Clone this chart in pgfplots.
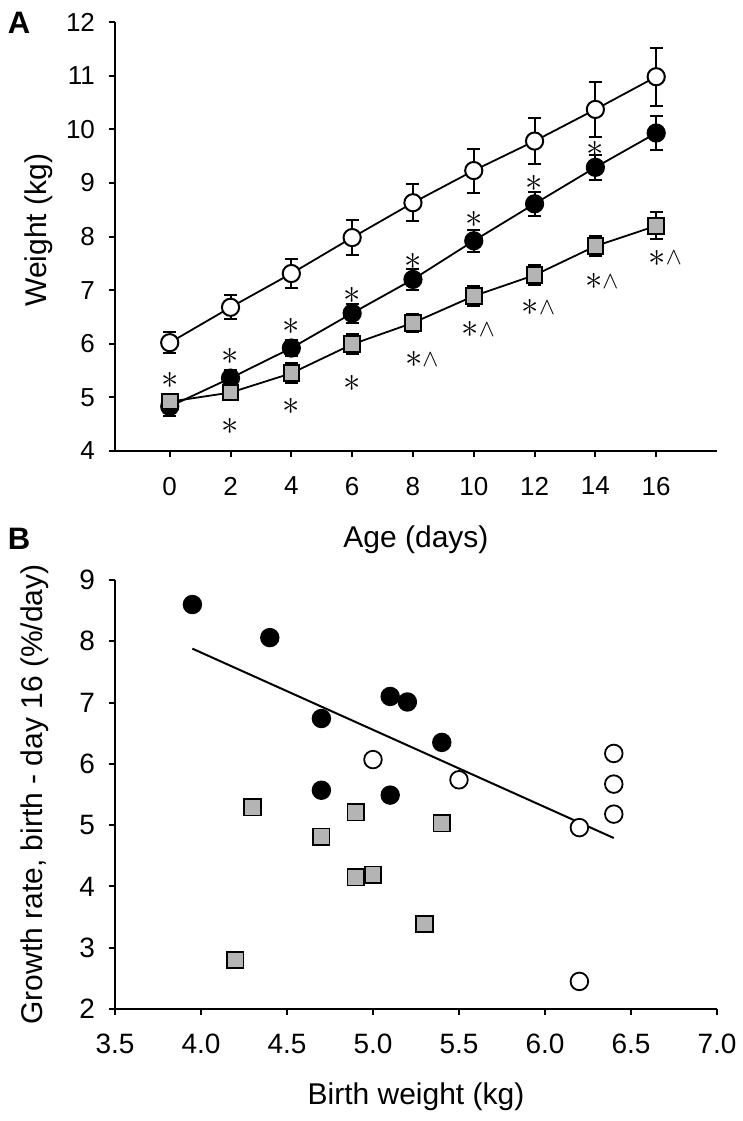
\documentclass[border=0pt]{standalone}
\usepackage{fontspec}
\setmainfont{Liberation Sans}
\setsansfont{Liberation Sans}
\usepackage{pgfplots}
\pgfplotsset{compat=1.18}

\definecolor{sqgray}{RGB}{180,180,180}

\pgfplotsset{
  panel/.style={
    scale only axis, width=301pt, height=214.5pt,
    axis lines=left, axis line style={-, line width=1pt},
    tick align=outside, major tick length=3pt,
    tick style={line width=1pt, black},
    /pgf/number format/assume math mode=true,
    clip=false,
    label style={font=\fontsize{15}{18}\selectfont},
  },
  openc/.style={black, line width=0.9pt, mark=*, mark size=4.3pt,
    mark options={fill=white, draw=black, line width=1pt}},
  fillc/.style={black, line width=0.9pt, mark=*, mark size=4.3pt,
    mark options={fill=black, draw=black, line width=1pt}},
  sq/.style={black, line width=0.9pt, mark=square*, mark size=3.9pt,
    mark options={fill=sqgray, draw=black, line width=1pt}},
  ebar/.style={error bars/.cd, y dir=both, y explicit,
    error bar style={line width=1pt, black},
    error mark options={rotate=90, black, line width=1pt, mark size=3.25pt}},
}
\newcommand{\st}{{\fontsize{19}{21}\selectfont$\ast$}}
\newcommand{\stw}{{\fontsize{19}{21}\selectfont$\ast$}{\fontsize{13}{15}\selectfont\raisebox{0.6pt}{$\wedge$}}}

\begin{document}
\begin{tikzpicture}
\useasboundingbox (-57.5pt,-335pt) rectangle (314pt,225.5pt);

% panel A: weight by age
\begin{axis}[panel,
  xmin=-1.8, xmax=18, ymin=4, ymax=12,
  xtick={0,2,...,16}, ytick={4,5,...,12},
  tick label style={font=\fontsize{13}{15}\selectfont},
  xticklabel style={yshift=-6.5pt},
  yticklabel style={xshift=-3.5pt},
  xlabel={Age (days)},
  xlabel style={at={(axis description cs:0.5,-0.2075)}, anchor=center},
  ylabel={Weight (kg)},
  ylabel style={at={(axis description cs:-0.126,0.515)}, anchor=center},
]
\addplot[openc, ebar] coordinates {
  (0,6.02) +- (0,0.20) (2,6.68) +- (0,0.22) (4,7.31) +- (0,0.27)
  (6,7.98) +- (0,0.32) (8,8.63) +- (0,0.35) (10,9.23) +- (0,0.41)
  (12,9.78) +- (0,0.43) (14,10.37) +- (0,0.52) (16,10.98) +- (0,0.54)
};
\addplot[fillc, ebar] coordinates {
  (0,4.83) +- (0,0.17) (2,5.36) +- (0,0.15) (4,5.92) +- (0,0.15)
  (6,6.57) +- (0,0.18) (8,7.20) +- (0,0.19) (10,7.92) +- (0,0.20)
  (12,8.61) +- (0,0.22) (14,9.29) +- (0,0.23) (16,9.93) +- (0,0.31)
};
\addplot[sq, ebar] coordinates {
  (0,4.92) +- (0,0.10) (2,5.09) +- (0,0.10) (4,5.45) +- (0,0.19)
  (6,5.99) +- (0,0.19) (8,6.39) +- (0,0.17) (10,6.89) +- (0,0.18)
  (12,7.28) +- (0,0.19) (14,7.82) +- (0,0.19) (16,8.20) +- (0,0.25)
};
% significance marks
\node at (axis cs:0,5.32) {\st};
\node at (axis cs:2,5.77) {\st};
\node at (axis cs:2,4.45) {\st};
\node at (axis cs:4,6.32) {\st};
\node at (axis cs:4,4.83) {\st};
\node at (axis cs:6,6.91) {\st};
\node at (axis cs:6,5.26) {\st};
\node at (axis cs:8,7.53) {\st};
\node at (axis cs:10,8.31) {\st};
\node at (axis cs:12,8.99) {\st};
\node at (axis cs:14,9.62) {\st};
\node at (axis cs:8.29,5.70) {\stw};
\node at (axis cs:10.15,6.26) {\stw};
\node at (axis cs:12.13,6.67) {\stw};
\node at (axis cs:14.21,7.16) {\stw};
\node at (axis cs:16.30,7.60) {\stw};
\node[font=\bfseries\fontsize{15.5}{18}\selectfont, xshift=-48pt, yshift=-0.5pt] at (rel axis cs:0,1) {A};
\end{axis}

% panel B: growth rate vs birth weight
\begin{axis}[panel, at={(0,-279pt)},
  xmin=3.5, xmax=7, ymin=2, ymax=9,
  xtick={3.5,4,...,7}, ytick={2,3,...,9},
  tick label style={font=\fontsize{14}{16}\selectfont},
  xticklabel style={yshift=-6pt, /pgf/number format/.cd, fixed, fixed zerofill, precision=1},
  yticklabel style={xshift=-3.5pt},
  xlabel={Birth weight (kg)},
  xlabel style={at={(axis description cs:0.5,-0.205)}, anchor=center},
  ylabel={Growth rate, birth - day 16 (\%/day)},
  ylabel style={at={(axis description cs:-0.133,0.5)}, anchor=center},
]
\addplot[only marks, mark=square*, mark size=4.1pt,
  mark options={fill=sqgray, draw=black, line width=0.9pt}] coordinates {
  (4.2,2.80) (4.3,5.29) (4.7,4.81) (4.9,5.21) (4.9,4.15) (5.0,4.19) (5.3,3.39) (5.4,5.03)
};
\addplot[only marks, mark=*, mark size=4.4pt,
  mark options={fill=black, draw=black, line width=0.9pt}] coordinates {
  (3.95,8.60) (4.4,8.06) (4.7,6.74) (4.7,5.57) (5.1,7.10) (5.2,7.01) (5.4,6.35) (5.1,5.49)
};
\addplot[only marks, mark=*, mark size=4.4pt,
  mark options={fill=white, draw=black, line width=0.9pt}] coordinates {
  (5.0,6.07) (5.5,5.74) (6.2,4.96) (6.4,6.17) (6.4,5.67) (6.4,5.18) (6.2,2.45)
};
\addplot[black, line width=1pt] coordinates {(3.95,7.88) (6.4,4.79)};
\node[font=\bfseries\fontsize{15.5}{18}\selectfont, xshift=-48pt, yshift=20.5pt] at (rel axis cs:0,1) {B};
\end{axis}
\end{tikzpicture}
\end{document}
